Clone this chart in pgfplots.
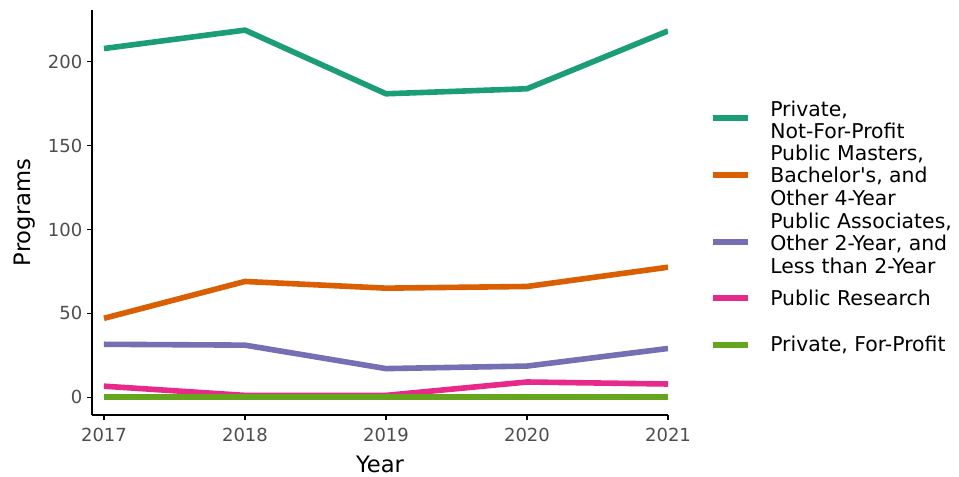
\documentclass[border=0pt]{standalone}
\usepackage{fontspec}
\setmainfont{DejaVu Sans}
\newfontfamily\plainfont{DejaVu Sans}
\usepackage{pgfplots}
\pgfplotsset{compat=1.18}

\definecolor{dgreen}{HTML}{1B9E77}
\definecolor{dorange}{HTML}{D95F02}
\definecolor{dpurple}{HTML}{7570B3}
\definecolor{dpink}{HTML}{E7298A}
\definecolor{lgreen}{HTML}{66A61E}
\definecolor{tickgray}{HTML}{4D4D4D}

\begin{document}
\begin{tikzpicture}[x=0.75pt,y=0.75pt]
\path[use as bounding box] (-92,-61) rectangle (867,415);
\begin{axis}[
    at={(0,0)}, anchor=south west,
    scale only axis,
    width=432pt, height=303.75pt,
    xmin=2016.915, xmax=2021,
    ymin=-10.7, ymax=231,
    axis x line*=bottom,
    axis y line*=left,
    axis line style={-, line width=1.1pt, black},
    tick align=outside,
    major tick length=3.75pt,
    tick style={black, line width=0.8pt},
    xtick={2017,2018,2019,2020,2021},
    xticklabels={2017,2018,2019,2020,2021},
    ytick={0,50,100,150,200},
    yticklabels={0,50,100,150,200},
    tick label style={font=\fontsize{13.5}{15}\selectfont, text=tickgray},
    x tick label style={yshift=-2.5pt},
    xlabel={Year},
    ylabel={Programs},
    label style={font=\fontsize{17}{19}\selectfont},
    xlabel style={yshift=-3.5pt},
    ylabel style={yshift=2.5pt},
    line join=round,
]
\addplot[dgreen, line width=4.2pt] coordinates {(2017,208) (2018,219) (2019,181) (2020,184) (2021,218.5)};
\addplot[dorange, line width=4.2pt] coordinates {(2017,47) (2018,69) (2019,65) (2020,66) (2021,77.5)};
\addplot[dpurple, line width=4.2pt] coordinates {(2017,31.5) (2018,31) (2019,17) (2020,18.5) (2021,29)};
\addplot[dpink, line width=4.2pt] coordinates {(2017,6.5) (2018,1) (2019,1) (2020,9) (2021,7.8)};
\addplot[lgreen, line width=4.2pt] coordinates {(2017,0) (2018,0) (2019,0) (2020,0) (2021,0)};
\end{axis}
% legend
\begin{scope}[every node/.style={anchor=west, align=left, inner sep=0pt,
    font=\fontsize{15.3}{16.9}\selectfont}]
\draw[dgreen, line width=4.5pt] (621,297) -- (656,297);
\node at (678,295) {Private,\\Not-For-Profit};
\draw[dorange, line width=4.5pt] (621,240) -- (656,240);
\node at (678,240) {Public Masters,\\Bachelor{\plainfont '}s, and\\Other 4-Year};
\draw[dpurple, line width=4.5pt] (621,173) -- (656,173);
\node at (678,172) {Public Associates,\\Other 2-Year, and\\Less than 2-Year};
\draw[dpink, line width=4.5pt] (621,117) -- (656,117);
\node at (678,117) {Public Research};
\draw[lgreen, line width=4.5pt] (621,70) -- (656,70);
\node at (678,70) {Private, For-Profit};
\end{scope}
\end{tikzpicture}
\end{document}
